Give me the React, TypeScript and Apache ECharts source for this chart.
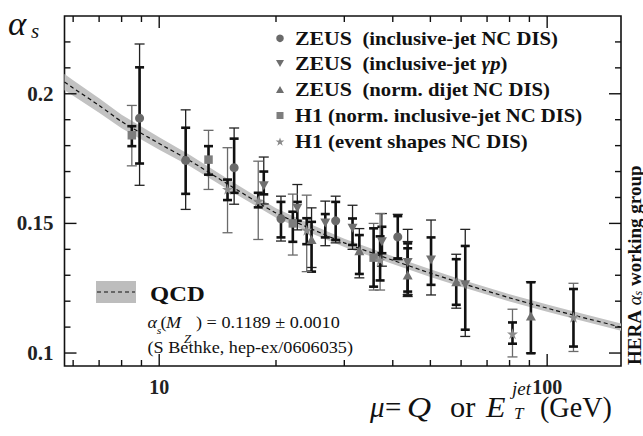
import React, { useEffect, useRef } from 'react';
import * as echarts from 'echarts';

// ---------------- data ----------------
const xTickLabels = [10, 100];
const yTickLabels = ['0.1', '0.15', '0.2'];
const xMajorTicks = [10, 100];
const xMinorTicks = [6, 7, 8, 9, 20, 30, 40, 50, 60, 70, 80, 90];
const yMajorTicks = [0.1, 0.15, 0.2];
const yMinorTicks = [0.11, 0.12, 0.13, 0.14, 0.16, 0.17, 0.18, 0.19, 0.21, 0.22];
const X_MIN = 5.7;
const X_MAX = 155;
const Y_MIN = 0.095;
const Y_MAX = 0.23;

// QCD running alpha_s curve
const curveMu = [5.7, 6, 7, 8, 10, 12, 15, 20, 25, 30, 40, 50, 60, 80, 100, 120, 155];
const curveAlpha = [0.2045, 0.2022, 0.1955, 0.1893, 0.1808, 0.1742, 0.1652, 0.154, 0.1475, 0.1425, 0.1358, 0.1308, 0.127, 0.1213, 0.1173, 0.1142, 0.11];
const curveHalfWidth = [0.0031, 0.003, 0.0028, 0.0026, 0.0024, 0.0022, 0.002, 0.0018, 0.0017, 0.0016, 0.0015, 0.0015, 0.0014, 0.0014, 0.0014, 0.0014, 0.0014];

// ZEUS inclusive-jet NC DIS (circles)
const zeusDisMu = [8.9, 11.7, 15.6, 20.6, 28.5, 41.2];
const zeusDisAlpha = [0.1906, 0.1743, 0.1715, 0.1518, 0.151, 0.1448];
const zeusDisExpLo = [0.1731, 0.1614, 0.1618, 0.1446, 0.1436, 0.1365];
const zeusDisExpHi = [0.2102, 0.1869, 0.1827, 0.1583, 0.1583, 0.1528];
const zeusDisTotLo = [0.1647, 0.1554, 0.1574, 0.1432, 0.1425, 0.136];
const zeusDisTotHi = [0.2192, 0.1938, 0.1868, 0.1605, 0.1605, 0.1535];

// ZEUS inclusive-jet gamma p (down triangles)
const zeusGpMu = [18.6, 22.7, 26.8, 31.5, 37.5, 43.7, 50.2, 61.5];
const zeusGpAlpha = [0.1645, 0.1558, 0.1502, 0.1481, 0.1429, 0.1349, 0.1359, 0.1263];
const zeusGpExpLo = [0.1612, 0.151, 0.1446, 0.1417, 0.1385, 0.1224, 0.1263, 0.109];
const zeusGpExpHi = [0.17, 0.1583, 0.1536, 0.1519, 0.1487, 0.1423, 0.1446, 0.1413];
const zeusGpTotLo = [0.1575, 0.1475, 0.1414, 0.14, 0.1335, 0.1218, 0.1224, 0.1064];
const zeusGpTotHi = [0.1756, 0.165, 0.1586, 0.157, 0.1538, 0.1477, 0.1513, 0.1477];

// ZEUS norm. dijet NC DIS (up triangles)
const zeusDijetMu = [24.7, 32.8, 43.7, 58.3, 90.8];
const zeusDijetAlpha = [0.1438, 0.1395, 0.1301, 0.1275, 0.1143];
const zeusDijetExpLo = [0.1314, 0.1305, 0.1237, 0.1186, 0.0999];
const zeusDijetExpHi = [0.1506, 0.1455, 0.1404, 0.1362, 0.1273];
const zeusDijetTotLo = [0.133, 0.129, 0.1225, 0.1173, 0.1];
const zeusDijetTotHi = [0.156, 0.148, 0.143, 0.1381, 0.1275];

// H1 norm. inclusive-jet NC DIS (squares)
const h1JetMu = [8.5, 13.4, 22.1, 35.7];
const h1JetAlpha = [0.184, 0.1746, 0.15, 0.1368];
const h1JetExpLo = [0.1798, 0.1688, 0.1429, 0.1256];
const h1JetExpHi = [0.1875, 0.1798, 0.1545, 0.1481];
const h1JetTotLo = [0.1722, 0.1631, 0.1378, 0.1243];
const h1JetTotHi = [0.1955, 0.1859, 0.1613, 0.15];

// H1 event shapes NC DIS (stars)
const h1ShapeMu = [15.0, 18.0, 24.0, 37.1, 81.4, 116.9];
const h1ShapeAlpha = [0.1632, 0.1586, 0.1474, 0.1359, 0.1074, 0.1138];
const h1ShapeExpLo = [0.159, 0.1562, 0.142, 0.128, 0.1036, 0.1025];
const h1ShapeExpHi = [0.1669, 0.1618, 0.152, 0.145, 0.1118, 0.1247];
const h1ShapeTotLo = [0.1464, 0.1438, 0.1314, 0.1243, 0.0985, 0.1006];
const h1ShapeTotHi = [0.1792, 0.174, 0.1609, 0.1538, 0.1169, 0.1269];

// ---------------- helpers ----------------
const FONT = "'Liberation Serif', 'Times New Roman', serif";
const SX = 1.12;
const STAR_PATH =
  'path://M0,-10 L2.245,-3.09 L9.51,-3.09 L3.633,1.18 L5.88,8.09 L0,3.82 L-5.88,8.09 L-3.633,1.18 L-9.51,-3.09 L-2.245,-3.09 Z';

function rows(mu: number[], a: number[], elo: number[], ehi: number[], tlo: number[], thi: number[]) {
  return mu.map((m, i) => [m, a[i], elo[i], ehi[i], tlo[i], thi[i]]);
}

function errorBars(name: string, data: number[][], thinColor: string) {
  return {
    type: 'custom',
    name: name + '-err',
    z: 3,
    silent: true,
    data,
    encode: { x: 0, y: 1 },
    renderItem: (params: any, api: any) => {
      const x = api.value(0);
      const px = api.coord([x, api.value(1)])[0];
      const eLo = api.coord([x, api.value(2)])[1];
      const eHi = api.coord([x, api.value(3)])[1];
      const tLo = api.coord([x, api.value(4)])[1];
      const tHi = api.coord([x, api.value(5)])[1];
      const thin = { stroke: thinColor, lineWidth: 1.3 };
      const thick = { stroke: '#111', lineWidth: 2.6 };
      const c2 = 5;
      const c1 = 4.5;
      return {
        type: 'group',
        children: [
          { type: 'line', shape: { x1: px, y1: tHi, x2: px, y2: tLo }, style: thin },
          { type: 'line', shape: { x1: px - c2, y1: tHi, x2: px + c2, y2: tHi }, style: thin },
          { type: 'line', shape: { x1: px - c2, y1: tLo, x2: px + c2, y2: tLo }, style: thin },
          { type: 'line', shape: { x1: px, y1: eHi, x2: px, y2: eLo }, style: thick },
          { type: 'line', shape: { x1: px - c1, y1: eHi, x2: px + c1, y2: eHi }, style: thick },
          { type: 'line', shape: { x1: px - c1, y1: eLo, x2: px + c1, y2: eLo }, style: thick },
        ],
      };
    },
  };
}

function markers(name: string, data: number[][], symbol: string, size: any, color: string, rotate = 0) {
  return {
    type: 'scatter',
    name,
    z: 4,
    silent: true,
    data: data.map((d) => [d[0], d[1]]),
    symbol,
    symbolSize: size,
    symbolRotate: rotate,
    itemStyle: { color, opacity: 1 },
  };
}

function txt(x: number, y: number, text: string, fontSize: number, o: any = {}) {
  return {
    type: 'text',
    x,
    y,
    scaleX: o.sx ?? SX,
    rotation: o.rot ?? 0,
    silent: true,
    z: 20,
    style: {
      text,
      fontFamily: FONT,
      fontSize,
      fontWeight: o.bold ? 'bold' : 'normal',
      fontStyle: o.italic ? 'italic' : 'normal',
      fill: '#111',
      textAlign: 'left',
      verticalAlign: 'middle',
      rich: o.rich,
    },
  };
}

function starPoints(cx: number, cy: number, r: number) {
  const pts: number[][] = [];
  for (let k = 0; k < 10; k++) {
    const ang = (-90 + 36 * k) * (Math.PI / 180);
    const rr = k % 2 === 0 ? r : r * 0.382;
    pts.push([cx + rr * Math.cos(ang), cy + rr * Math.sin(ang)]);
  }
  return pts;
}

export default function App() {
  const ref = useRef<HTMLDivElement>(null);

  useEffect(() => {
    if (!ref.current) return;
    const chart = echarts.init(ref.current, undefined, { renderer: 'svg' });

    const zeusDis = rows(zeusDisMu, zeusDisAlpha, zeusDisExpLo, zeusDisExpHi, zeusDisTotLo, zeusDisTotHi);
    const zeusGp = rows(zeusGpMu, zeusGpAlpha, zeusGpExpLo, zeusGpExpHi, zeusGpTotLo, zeusGpTotHi);
    const zeusDijet = rows(zeusDijetMu, zeusDijetAlpha, zeusDijetExpLo, zeusDijetExpHi, zeusDijetTotLo, zeusDijetTotHi);
    const h1Jet = rows(h1JetMu, h1JetAlpha, h1JetExpLo, h1JetExpHi, h1JetTotLo, h1JetTotHi);
    const h1Shape = rows(h1ShapeMu, h1ShapeAlpha, h1ShapeExpLo, h1ShapeExpHi, h1ShapeTotLo, h1ShapeTotHi);

    const bandSeries = {
      type: 'custom',
      name: 'QCD band',
      z: 1,
      silent: true,
      data: curveMu.map((m, i) => [m, curveAlpha[i]]),
      encode: { x: 0, y: 1 },
      renderItem: (params: any, api: any) => {
        if (params.dataIndex !== 0) return null;
        const up = curveMu.map((m, i) => api.coord([m, curveAlpha[i] + curveHalfWidth[i]]));
        const lo = curveMu.map((m, i) => api.coord([m, curveAlpha[i] - curveHalfWidth[i]])).reverse();
        return {
          type: 'polygon',
          shape: { points: [...up, ...lo] },
          style: { fill: '#c2c2c2', stroke: null },
        };
      },
    };

    const legendX = 295;
    const legendRows = [38.3, 63.5, 89.5, 115.5, 141.5];
    const mk = 280;
    const richLegend = {
      n: { fontFamily: FONT, fontSize: 19.5, fontWeight: 'bold', fill: '#111' },
      d: { fontFamily: FONT, fontSize: 18.5, fontWeight: 'bold', fill: '#111' },
      g: { fontFamily: FONT, fontSize: 18.5, fontWeight: 'bold', fontStyle: 'italic', fill: '#111' },
    };

    const graphic: any[] = [
      // legend markers
      { type: 'circle', z: 20, shape: { cx: mk, cy: legendRows[0], r: 3.8 }, style: { fill: '#6a6a6a' }, silent: true },
      { type: 'polygon', z: 20, shape: { points: [[mk - 4, legendRows[1] - 3.5], [mk + 4, legendRows[1] - 3.5], [mk, legendRows[1] + 3.5]] }, style: { fill: '#6e6e6e' }, silent: true },
      { type: 'polygon', z: 20, shape: { points: [[mk - 4, legendRows[2] + 3.5], [mk + 4, legendRows[2] + 3.5], [mk, legendRows[2] - 3.5]] }, style: { fill: '#6e6e6e' }, silent: true },
      { type: 'rect', z: 20, shape: { x: mk - 3.5, y: legendRows[3] - 3.5, width: 7, height: 7 }, style: { fill: '#7d7d7d' }, silent: true },
      { type: 'polygon', z: 20, shape: { points: starPoints(mk, legendRows[4] + 0.5, 4.6) }, style: { fill: '#8a8a8a' }, silent: true },
      // legend texts
      txt(legendX, legendRows[0], '{n|ZEUS}{d|  (inclusive-jet NC DIS)}', 18.5, { rich: richLegend }),
      txt(legendX, legendRows[1], '{n|ZEUS}{d|  (inclusive-jet }{g|γp}{d|)}', 18.5, { rich: richLegend }),
      txt(legendX, legendRows[2], '{n|ZEUS}{d|  (norm. dijet NC DIS)}', 18.5, { rich: richLegend }),
      txt(legendX, legendRows[3], '{n|H1}{d| (norm. inclusive-jet NC DIS)}', 18.5, { rich: richLegend }),
      txt(legendX, legendRows[4], '{n|H1}{d| (event shapes NC DIS)}', 18.5, { rich: richLegend }),
      // QCD legend
      { type: 'rect', z: 20, shape: { x: 96, y: 281, width: 40, height: 22 }, style: { fill: '#bdbdbd' }, silent: true },
      { type: 'line', z: 21, shape: { x1: 97, y1: 292, x2: 135, y2: 292 }, style: { stroke: '#111', lineWidth: 1.2, lineDash: [4, 3] }, silent: true },
      txt(150, 293, 'QCD', 22, { bold: true }),
      txt(147.5, 322.6, 'α', 17, { italic: true, sx: 1.07 }),
      txt(156.8, 330, 's', 11, { italic: true, sx: 1.07 }),
      txt(160.5, 322.6, '(', 17, { sx: 1.07 }),
      txt(166, 322.6, 'M', 17, { italic: true, sx: 1.07 }),
      txt(184, 339, 'Z', 12, { italic: true, sx: 1.07 }),
      txt(196, 322.6, ') = 0.1189 ± 0.0010', 17, { sx: 1.07 }),
      txt(147.5, 347.6, '(S Bethke, hep-ex/0606035)', 17, { sx: 1.07 }),
      // y axis title
      txt(8, 24, 'α', 33, { italic: true, sx: 1.05 }),
      txt(31, 31, 's', 20, { italic: true, sx: 1.05 }),
      // x axis title
      txt(370, 407, 'μ', 29, { italic: true, sx: 1 }),
      txt(385, 407, '=', 29, { sx: 1 }),
      txt(407, 407, 'Q', 29, { italic: true, sx: 1.15 }),
      txt(450, 407, 'or', 29, { sx: 1.05 }),
      txt(486, 407, 'E', 29, { italic: true, sx: 1.1 }),
      txt(512, 389, 'jet', 18, { italic: true, sx: 1.05 }),
      txt(514, 413, 'T', 17, { italic: true, sx: 1 }),
      txt(540, 407, '(GeV)', 29, { sx: 0.97 }),
      // vertical group label
      txt(634, 365, '{b|HERA }{a|α}{s|s}{b| working group}', 19, {
        rot: Math.PI / 2,
        sx: 1,
        rich: {
          b: { fontFamily: FONT, fontSize: 19, fontWeight: 'bold', fill: '#111' },
          a: { fontFamily: FONT, fontSize: 19, fontStyle: 'italic', fill: '#111' },
          s: { fontFamily: FONT, fontSize: 12, fontStyle: 'italic', fill: '#111', verticalAlign: 'bottom' },
        },
      }),
    ];

    chart.setOption({
      animation: false,
      backgroundColor: '#fff',
      grid: { left: 64.5, top: 16, right: 22, bottom: 70, show: true, borderColor: '#111', borderWidth: 1.6, backgroundColor: 'transparent' },
      xAxis: {
        type: 'log',
        logBase: 10,
        min: X_MIN,
        max: X_MAX,
        axisLine: { show: false },
        axisTick: { show: false },
        splitLine: { show: false },
        minorTick: { show: false },
        axisLabel: {
          margin: 11,
          fontFamily: FONT,
          fontWeight: 'bold',
          fontSize: 20,
          color: '#222',
          showMinLabel: false,
          showMaxLabel: false,
          formatter: (v: number) => {
            const r = Math.round(v);
            return xTickLabels.some((t) => Math.abs(v - t) / t < 1e-6) ? String(r) : '';
          },
        },
      },
      yAxis: {
        type: 'value',
        min: Y_MIN,
        max: Y_MAX,
        interval: 0.005,
        axisLine: { show: false },
        axisTick: { show: false },
        splitLine: { show: false },
        axisLabel: {
          margin: 11,
          fontFamily: FONT,
          fontWeight: 'bold',
          fontSize: 21,
          color: '#222',
          formatter: (v: number) => {
            const hit = yTickLabels.find((t) => Math.abs(parseFloat(t) - v) < 1e-7);
            return hit ?? '';
          },
        },
      },
      series: [
        bandSeries,
        {
          type: 'line',
          name: 'QCD',
          z: 2,
          silent: true,
          smooth: 0.2,
          symbol: 'none',
          lineStyle: { color: '#111', width: 1.2, type: [4, 3] },
          data: curveMu.map((m, i) => [m, curveAlpha[i]]),
        },
        errorBars('zeusDis', zeusDis, '#222'),
        errorBars('zeusGp', zeusGp, '#222'),
        errorBars('zeusDijet', zeusDijet, '#222'),
        errorBars('h1Jet', h1Jet, '#6a6a6a'),
        errorBars('h1Shape', h1Shape, '#6a6a6a'),
        markers('ZEUS (inclusive-jet NC DIS)', zeusDis, 'circle', 9, '#6a6a6a'),
        markers('ZEUS (inclusive-jet γp)', zeusGp, 'triangle', [10, 9], '#707070', 180),
        markers('ZEUS (norm. dijet NC DIS)', zeusDijet, 'triangle', [10, 9], '#707070'),
        markers('H1 (norm. inclusive-jet NC DIS)', h1Jet, 'rect', 8.5, '#7d7d7d'),
        markers('H1 (event shapes NC DIS)', h1Shape, STAR_PATH, 11, '#8c8c8c'),
      ],
    });

    // axis ticks on all four sides, positioned through the chart's own scales
    const tickStyle = { stroke: '#111', lineWidth: 1.4 };
    const toPx = (v: number[]) => chart.convertToPixel({ xAxisIndex: 0, yAxisIndex: 0 }, v) as number[];
    const tickEls: any[] = [];
    const addX = (v: number, len: number) => {
      const b = toPx([v, Y_MIN]);
      const t = toPx([v, Y_MAX]);
      tickEls.push({ type: 'line', z: 30, silent: true, shape: { x1: b[0], y1: b[1], x2: b[0], y2: b[1] - len }, style: tickStyle });
      tickEls.push({ type: 'line', z: 30, silent: true, shape: { x1: t[0], y1: t[1], x2: t[0], y2: t[1] + len }, style: tickStyle });
    };
    const addY = (v: number, len: number) => {
      const l = toPx([X_MIN, v]);
      const r = toPx([X_MAX, v]);
      tickEls.push({ type: 'line', z: 30, silent: true, shape: { x1: l[0], y1: l[1], x2: l[0] + len, y2: l[1] }, style: tickStyle });
      tickEls.push({ type: 'line', z: 30, silent: true, shape: { x1: r[0], y1: r[1], x2: r[0] - len, y2: r[1] }, style: tickStyle });
    };
    xMajorTicks.forEach((v) => addX(v, 12));
    xMinorTicks.forEach((v) => addX(v, 6));
    yMajorTicks.forEach((v) => addY(v, 12));
    yMinorTicks.forEach((v) => addY(v, 6));

    chart.setOption({ graphic: [...graphic, ...tickEls] });

    return () => chart.dispose();
  }, []);

  return (
    <div
      ref={ref}
      style={{ position: 'fixed', left: 0, top: 0, width: 643, height: 436, background: '#fff' }}
    />
  );
}
